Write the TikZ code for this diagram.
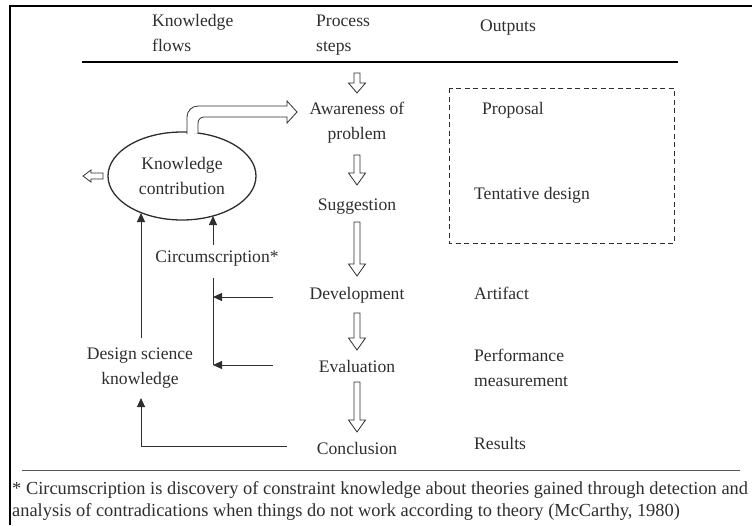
\documentclass[tikz,border=0pt]{standalone}
\usepackage{fontspec}
\setmainfont{Liberation Serif}
\usetikzlibrary{arrows.meta,calc,shapes.geometric}

\definecolor{ink}{HTML}{2E2E2E}
\definecolor{rulegray}{HTML}{555555}

\tikzset{
  lbl/.style={inner sep=0pt, text=ink, font=\fontsize{17.6}{25}\selectfont},
  stepnode/.style={lbl, align=center},
  outnode/.style={lbl, anchor=west, align=left},
  hollow/.style={draw=ink, line width=0.8pt, fill=white, line join=miter},
  flow/.style={draw=ink, line width=0.9pt, -{Triangle[length=9pt,width=8pt]}},
  plainline/.style={draw=ink, line width=0.9pt},
}

% hollow block arrow pointing down: [head length]{from}{to}
\newcommand\hollowdown[3][12]{%
  \path[hollow] let \p1=(#2), \p2=(#3) in
    (\x1-3pt,\y1) -- (\x1-3pt,\y2+#1pt) -- (\x1-8.5pt,\y2+#1pt) -- (\x2,\y2)
    -- (\x1+8.5pt,\y2+#1pt) -- (\x1+3pt,\y2+#1pt) -- (\x1+3pt,\y1) -- cycle;}

\begin{document}
\begin{tikzpicture}[x=1pt,y=-1pt]
\useasboundingbox (0,0) rectangle (752,525);

% frame and header rule
\draw[black, line width=2.4pt] (9,6) -- (752,6);
\draw[black, line width=2.6pt] (10,5) -- (10,525);
\draw[black, line width=2pt] (82,62) -- (678,62);

% column headings
\node[lbl, anchor=west, align=left] (hk) at (152,33) {Knowledge\\flows};
\node[lbl, anchor=west, align=left] (hp) at (316,35) {Process\\steps};
\node[lbl, anchor=west] (ho) at (480,28) {Outputs};

% process steps
\node[stepnode] (aw)  at (357,123) {Awareness of\\problem};
\node[stepnode] (sug) at (357,207) {Suggestion};
\node[stepnode] (dev) at (357,295) {Development};
\node[stepnode] (eva) at (357,366) {Evaluation};
\node[stepnode] (con) at (357,448) {Conclusion};

% arrow ends between the steps
\coordinate (in0) at (357,73);  \coordinate (in1) at (357,93);
\coordinate (s1)  at (357,155); \coordinate (e1)  at (357,185);
\coordinate (s2)  at (357,222); \coordinate (e2)  at (357,276);
\coordinate (s3)  at (357,313); \coordinate (e3)  at (357,350);
\coordinate (s4)  at (357,382); \coordinate (e4)  at (357,432);

\hollowdown[10]{in0}{in1}
\hollowdown{s1}{e1}
\hollowdown{s2}{e2}
\hollowdown{s3}{e3}
\hollowdown{s4}{e4}

% outputs
\draw[ink, line width=0.8pt, dash pattern=on 5pt off 3.5pt] (449,88) rectangle (674,243);
\node[outnode] (prop) at (482,110) {Proposal};
\node[outnode] (tent) at (474,195) {Tentative design};
\node[outnode] (art)  at (474,293) {Artifact};
\node[outnode] (perf) at (474,368) {Performance\\measurement};
\node[outnode] (res)  at (474,443) {Results};

% knowledge flows
\node[lbl, draw=ink, line width=1.3pt, ellipse, minimum width=148pt, minimum height=88pt,
      align=center] (kc) at (182,176) {Knowledge\\contribution};
\node[lbl, align=center] (cir) at (217,259) {Circumscription*};
\node[lbl, align=center] (dsk) at (140,368) {Design science\\knowledge};

% double-line flow from the contribution to awareness of the problem
\path[hollow, line width=0.8pt]
  (187,134) [rounded corners=11pt] -- (187,106) [sharp corners] -- (287,106) -- (287,101)
  -- (297,112) -- (287,123) -- (287,117) [rounded corners=6pt] -- (198,117)
  [sharp corners] -- (198,133.5);

% outward block arrow on the left
\path[hollow] (103,173) -- (91,173) -- (91,170) -- (83,176) -- (91,182) -- (91,179)
  -- (103,179) -- cycle;

% circumscription loop
\coordinate (dv) at (273,297);
\coordinate (ev) at (273,365);
\coordinate (ct) at (213,278);
\coordinate (cb) at (213,365);
\draw[plainline] (ct) -- (cb);
\draw[flow] (dv) -- (dv -| ct);
\draw[flow] (ev) -- (cb);
\draw[flow] (213,245) -- (213,216);

% design science knowledge
\draw[flow] (141,338) -- (141,213);
\coordinate (cl) at (287,446);
\draw[flow] (cl) -- (141,446) -- (141,398);

% footnote
\draw[rulegray, line width=1pt] (22,470) -- (740,470);
\node[lbl, anchor=west, font=\fontsize{18.4}{21}\selectfont, align=left] (fn) at (12,501)
  {* Circumscription is discovery of constraint knowledge about theories gained through detection and\\
   analysis of contradications when things do not work according to theory (McCarthy, 1980)};
\end{tikzpicture}
\end{document}
